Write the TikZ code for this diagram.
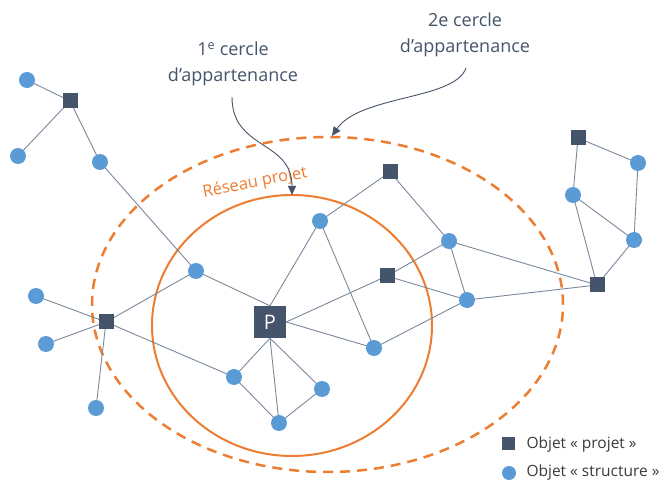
\documentclass[tikz,border=0pt]{standalone}
\usepackage{fontspec}
\setmainfont{Open Sans}
\usetikzlibrary{arrows.meta,backgrounds}
\definecolor{sq}{HTML}{44546A}
\definecolor{ci}{HTML}{5B9BD5}
\definecolor{org}{HTML}{ED7D31}
\definecolor{edg}{HTML}{7A889C}
\definecolor{legtxt}{HTML}{3A3A3A}
\begin{document}
\begin{tikzpicture}[x=1pt,y=-1pt,
  obj/.style={circle,fill=ci,minimum size=16pt,inner sep=0pt},
  proj/.style={rectangle,fill=sq,minimum size=15pt,inner sep=0pt},
  link/.style={draw=edg,line width=0.9pt},
  lbl/.style={text=sq,font=\fontsize{18}{26}\selectfont,align=center},
  callout/.style={draw=sq,line width=0.9pt,-{Triangle[length=9pt,width=8pt]}},
  legend/.style={anchor=west,text=legtxt,font=\fontsize{15.5}{18}\selectfont}]
\useasboundingbox (0,0) rectangle (665,481);

% nodes
\node[obj] (c1) at (27,80) {};
\node[proj] (s1) at (70,101) {};
\node[obj] (c2) at (18,156) {};
\node[obj] (c3) at (100,162) {};
\node[obj] (c4) at (196,271) {};
\node[proj,minimum size=32pt,text=white,font=\fontsize{20}{22}\selectfont] (P) at (270,322) {P};
\node[obj] (c5) at (320,221) {};
\node[proj] (s2) at (390,172) {};
\node[proj] (s3) at (387,276) {};
\node[obj] (c6) at (449,241) {};
\node[obj] (c7) at (467,300) {};
\node[obj] (c8) at (374,348) {};
\node[obj] (c9) at (234,377) {};
\node[obj] (c10) at (322,389) {};
\node[obj] (c11) at (279,423) {};
\node[proj] (s4) at (106,322) {};
\node[obj] (c12) at (36,296) {};
\node[obj] (c13) at (46,344) {};
\node[obj] (c14) at (96,408) {};
\node[proj] (s5) at (597,285) {};
\node[proj] (s6) at (578,138) {};
\node[obj] (c15) at (638,163) {};
\node[obj] (c16) at (573,195) {};
\node[obj] (c17) at (634,240) {};

\begin{pgfonlayer}{background}
  \draw[org,line width=2.5pt,dash pattern=on 10pt off 7pt] (327.5,304.5) ellipse [x radius=235.5pt, y radius=167.5pt];
  \draw[org,line width=2pt] (292,325.5) ellipse [x radius=140pt, y radius=130.5pt];
  \draw[link] (c1.center) -- (s1.center);
  \draw[link] (s1.center) -- (c2.center);
  \draw[link] (s1.center) -- (c3.center);
  \draw[link] (c3.center) -- (c4.center);
  \draw[link] (c4.center) -- (P.north);
  \draw[link] (s4.center) -- (c4.center);
  \draw[link] (s4.center) -- (c12.center);
  \draw[link] (s4.center) -- (c13.center);
  \draw[link] (s4.center) -- (c14.center);
  \draw[link] (s4.center) -- (c9.center);
  \draw[link] (P.north) -- (c5.center);
  \draw[link] (P.east) -- (s3.center);
  \draw[link] (P.east) -- (c8.center);
  \draw[link] (P.south) -- (c9.center);
  \draw[link] (P.south) -- (c11.center);
  \draw[link] (P.south) -- (c10.center);
  \draw[link] (c9.center) -- (c11.center);
  \draw[link] (c10.center) -- (c11.center);
  \draw[link] (c5.center) -- (s2.center);
  \draw[link] (c5.center) -- (c8.center);
  \draw[link] (s2.center) -- (c6.center);
  \draw[link] (s3.center) -- (c6.center);
  \draw[link] (s3.center) -- (c7.center);
  \draw[link] (c8.center) -- (c7.center);
  \draw[link] (c6.center) -- (c7.center);
  \draw[link] (c6.center) -- (s5.center);
  \draw[link] (c7.center) -- (s5.center);
  \draw[link] (s5.center) -- (c16.center);
  \draw[link] (s5.center) -- (c17.center);
  \draw[link] (c16.center) -- (c17.center);
  \draw[link] (s6.center) -- (c16.center);
  \draw[link] (s6.center) -- (c15.center);
  \draw[link] (c15.center) -- (c17.center);
\end{pgfonlayer}

% labels
\node[lbl] (l1) at (233,64) {1\textsuperscript{e} cercle\\d’appartenance};
\node[lbl] (l2) at (465,35) {2e cercle\\d’appartenance};
\node[text=org,font=\fontsize{16.5}{20}\selectfont,rotate=11] (res) at (255,183) {Réseau projet};

\coordinate (a1s) at (232,97);
\coordinate (a1e) at (292,195);
\coordinate (a2s) at (466,68);
\coordinate (a2e) at (332,136);
\draw[callout] (a1s) .. controls (232,150) and (292,140) .. (a1e);
\draw[callout] (a2s) .. controls (455,100) and (360,95) .. (a2e);

% legend
\node[proj,minimum size=13pt] (lsq) at (508.5,443.5) {};
\node[legend] (lt1) at (523,444) {Objet « projet »};
\node[obj,minimum size=14pt] (lci) at (509,473) {};
\node[legend] (lt2) at (523,472) {Objet « structure »};
\end{tikzpicture}
\end{document}
